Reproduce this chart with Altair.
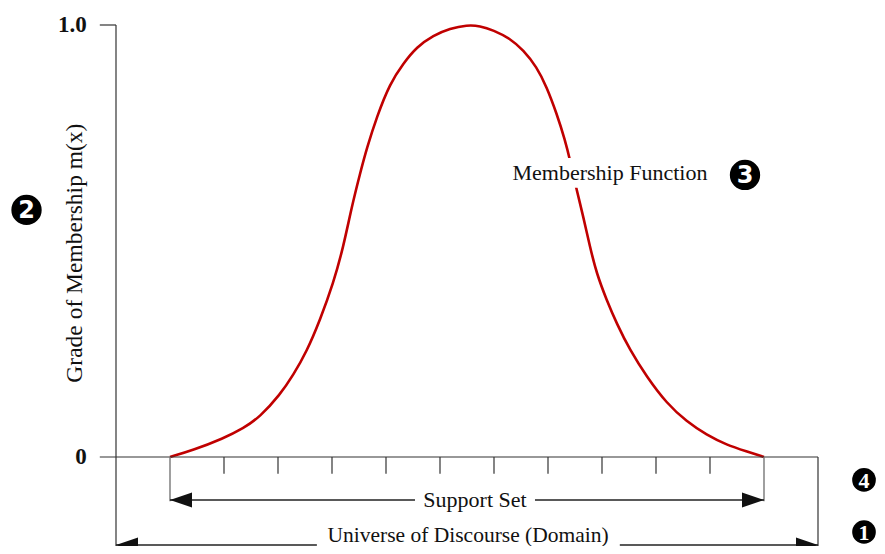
import altair as alt
import pandas as pd

# ---- data (x in tick units 0..13, y = grade of membership 0..1) ----
curve_x = [1.0, 1.432, 1.987, 2.357, 2.667, 3.037, 3.283, 3.531, 3.778, 4.024, 4.210,
           4.365, 4.519, 4.643, 4.828, 5.074, 5.321, 5.568, 5.877, 6.185, 6.5,
           6.741, 6.988, 7.296, 7.543, 7.790, 7.975, 8.161, 8.315, 8.407, 8.531,
           8.654, 8.778, 8.902, 9.087, 9.272, 9.519, 9.827, 10.198, 10.568, 10.938,
           11.309, 11.679, 12.0]
curve_y = [0.0, 0.016, 0.043, 0.066, 0.093, 0.144, 0.190, 0.244, 0.317, 0.402, 0.486,
           0.579, 0.656, 0.714, 0.787, 0.865, 0.911, 0.949, 0.976, 0.992, 1.0,
           0.998, 0.988, 0.969, 0.942, 0.903, 0.857, 0.795, 0.734, 0.688, 0.618,
           0.556, 0.486, 0.424, 0.363, 0.309, 0.247, 0.186, 0.124, 0.082, 0.051,
           0.028, 0.013, 0.0]
minor_ticks = [2, 3, 4, 5, 6, 7, 8, 9, 10, 11]
support_range = [1, 12]
universe_range = [0, 13]
y_tick_labels = ["0", "1.0"]
y_tick_values = [0, 1]
y_title = "Grade of Membership m(x)"
curve_label = "Membership Function"
support_label = "Support Set"
universe_label = "Universe of Discourse (Domain)"
badge_digits = ["2", "3", "4", "1"]

# ---- layout helpers (positions in data units) ----
SUP_Y = -0.0995
UNI_Y = -0.2037
TICK_LEN = -0.039
SERIF = "Liberation Serif"

X = alt.Scale(domain=[0, 13])
Y = alt.Scale(domain=[0, 1])

def xe(f="x"):
    return alt.X(f"{f}:Q", scale=X, axis=None)

def ye(f="y"):
    return alt.Y(f"{f}:Q", scale=Y, axis=None)

curve_df = pd.DataFrame({"x": curve_x, "y": curve_y})
curve = alt.Chart(curve_df).mark_line(color="#C00000", strokeWidth=2.6,
                                      interpolate="basis").encode(x=xe(), y=ye())

def rules(rows, color, width):
    df = pd.DataFrame(rows, columns=["x", "x2", "y", "y2"])
    return alt.Chart(df).mark_rule(color=color, strokeWidth=width).encode(
        x=xe(), x2="x2:Q", y=ye(), y2="y2:Q")

axis_lines = rules([
    [-0.3, universe_range[1], 0, 0],          # x axis
    [-0.3, 0, 1, 1],                          # y tick at 1.0
    [0, 0, 1, UNI_Y - 0.005],                 # y axis + universe left
    [universe_range[1], universe_range[1], 0, UNI_Y - 0.005],
], "#333333", 1.2)

tick_lines = rules([[t, t, 0, TICK_LEN] for t in minor_ticks], "#333333", 1.2)
support_verts = rules([[s, s, 0, SUP_Y - 0.003] for s in support_range], "#777777", 1.4)
arrow_lines = rules([
    [support_range[0], support_range[1], SUP_Y, SUP_Y],
    [universe_range[0], universe_range[1], UNI_Y, UNI_Y],
], "#222222", 1.4)

mask_df = pd.DataFrame({
    "x": [7.2, 5.537, 3.72], "x2": [11.04, 7.759, 9.33],
    "y": [0.692, -0.072, -0.170], "y2": [0.623, -0.127, -0.232]})
masks = alt.Chart(mask_df).mark_rect(color="white").encode(
    x=xe(), x2="x2:Q", y=ye(), y2="y2:Q")

text_df = pd.DataFrame({
    "x": [9.148, 6.648], "y": [0.657, SUP_Y],
    "t": [curve_label, support_label]})
texts = alt.Chart(text_df).mark_text(font=SERIF, fontSize=22, color="#111111",
                                     baseline="middle", align="center").encode(
    x=xe(), y=ye(), text="t:N")

uni_df = pd.DataFrame({"x": [6.52], "y": [UNI_Y], "t": [universe_label]})
uni_text = alt.Chart(uni_df).mark_text(font=SERIF, fontSize=21.5, color="#111111",
                                       baseline="middle", align="center", dy=-9).encode(
    x=xe(), y=ye(), text="t:N")

ylab_df = pd.DataFrame({"x": [-0.54, -0.54], "y": y_tick_values, "t": y_tick_labels})
ylabels = alt.Chart(ylab_df).mark_text(font=SERIF, fontSize=23, fontWeight="bold",
                                       color="#111111", align="right",
                                       baseline="middle").encode(
    x=xe(), y=ye(), text="t:N")

ytitle_df = pd.DataFrame({"x": [-0.76], "y": [0.472], "t": [y_title]})
ytitle = alt.Chart(ytitle_df).mark_text(font=SERIF, fontSize=23.5, color="#111111",
                                        angle=270, align="center",
                                        baseline="middle").encode(
    x=xe(), y=ye(), text="t:N")

head_df = pd.DataFrame({"x": [support_range[0], universe_range[0],
                              support_range[1], universe_range[1]],
                        "y": [SUP_Y, UNI_Y, SUP_Y, UNI_Y],
                        "d": ["L", "L", "R", "R"]})
head_l = alt.Chart(head_df[head_df.d == "L"]).mark_point(
    shape="M0,0L2,-0.68L2,0.68Z", filled=True, fill="#111111", strokeWidth=0,
    size=484, opacity=1).encode(x=xe(), y=ye())
head_r = alt.Chart(head_df[head_df.d == "R"]).mark_point(
    shape="M0,0L-2,-0.68L-2,0.68Z", filled=True, fill="#111111", strokeWidth=0,
    size=484, opacity=1).encode(x=xe(), y=ye())

badge_df = pd.DataFrame({"x": [-1.657, 11.648, 13.852, 13.852],
                         "y": [0.572, 0.653, -0.053, -0.1736],
                         "t": badge_digits,
                         "big": [True, True, False, False]})
big = badge_df[badge_df.big]
small = badge_df[~badge_df.big]
circ_big = alt.Chart(big).mark_circle(size=920, color="black", opacity=1).encode(
    x=xe(), y=ye())
circ_small = alt.Chart(small).mark_circle(size=560, color="black", opacity=1).encode(
    x=xe(), y=ye())
dig_big = alt.Chart(big).mark_text(font="DejaVu Sans", fontWeight="bold", fontSize=24,
                                   color="white", baseline="middle", dy=1).encode(
    x=xe(), y=ye(), text="t:N")
dig_small = alt.Chart(small).mark_text(font=SERIF, fontWeight="bold", fontSize=22,
                                       color="white", baseline="middle", dy=1).encode(
    x=xe(), y=ye(), text="t:N")

chart = alt.layer(
    curve, axis_lines, tick_lines, support_verts, arrow_lines, masks, texts, uni_text,
    ylabels, ytitle, head_l, head_r, circ_big, circ_small, dig_big, dig_small
).properties(
    width=702, height=432,
    autosize=alt.AutoSizeParams(type="none"),
    padding={"left": 108, "top": 17, "right": 59, "bottom": 89},
).configure(background="white").configure_view(strokeWidth=0, stroke="transparent", clip=False)

chart.save("out.html", embed_options={"renderer": "svg", "actions": False})
